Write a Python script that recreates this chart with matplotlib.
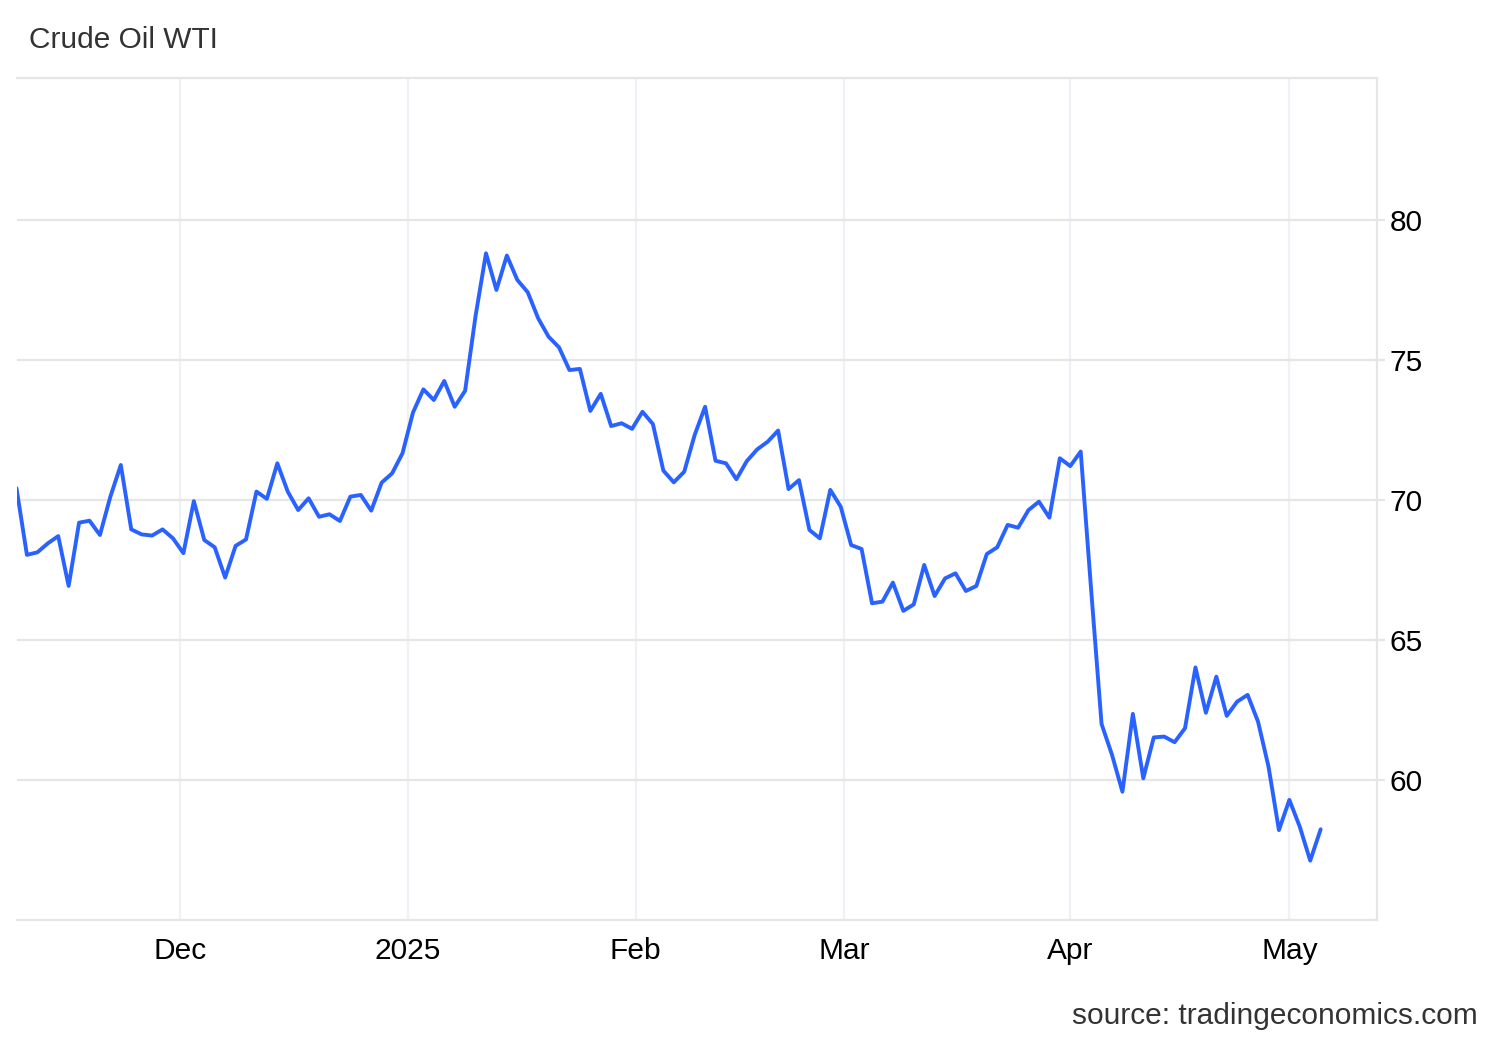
import numpy as np
import pandas as pd
import matplotlib
matplotlib.use("Agg")
import matplotlib.pyplot as plt

plt.rcParams['font.family'] = ['Liberation Sans', 'DejaVu Sans']

# Trading days on the chart (New Year and Good Friday have no value)
days = pd.bdate_range("2024-11-08", "2025-05-06")
days = days.drop(pd.to_datetime(["2025-01-01", "2025-04-18"]))

# WTI price, USD/bbl
prices = [
    70.42, 68.04, 68.13, 68.45, 68.71, 66.93, 69.19, 69.26, 68.75, 70.12,
    71.25, 68.95, 68.77, 68.73, 68.95, 68.63, 68.10, 69.96, 68.57, 68.31,
    67.23, 68.36, 68.59, 70.30, 70.04, 71.31, 70.30, 69.64, 70.06, 69.40,
    69.49, 69.25, 70.12, 70.18, 69.62, 70.62, 70.95, 71.67, 73.12, 73.95,
    73.57, 74.25, 73.33, 73.90, 76.57, 78.81, 77.50, 78.73, 77.86, 77.42,
    76.49, 75.83, 75.45, 74.64, 74.68, 73.18, 73.79, 72.64, 72.74, 72.54,
    73.15, 72.71, 71.05, 70.63, 71.01, 72.32, 73.33, 71.40, 71.31, 70.74,
    71.39, 71.81, 72.08, 72.48, 70.39, 70.71, 68.93, 68.63, 70.36, 69.76,
    68.39, 68.25, 66.31, 66.37, 67.05, 66.04, 66.27, 67.68, 66.57, 67.20,
    67.38, 66.75, 66.93, 68.07, 68.31, 69.11, 69.01, 69.64, 69.94, 69.37,
    71.49, 71.21, 71.73, 66.80, 62.00, 60.90, 59.58, 62.36, 60.06, 61.52,
    61.55, 61.35, 61.85, 64.02, 62.40, 63.69, 62.29, 62.80, 63.04, 62.08,
    60.48, 58.21, 59.29, 58.33, 57.12, 58.24,
]

month_starts = pd.to_datetime(["2024-12-01", "2025-01-01", "2025-02-01",
                               "2025-03-01", "2025-04-01", "2025-05-01"])
month_labels = ["Dec", "2025", "Feb", "Mar", "Apr", "May"]
y_ticks = [60, 65, 70, 75, 80]

# points are evenly spaced (ordinal axis), month ticks interpolated between days
idx = np.arange(len(prices))
tick_pos = np.interp(month_starts.values.astype("int64"),
                     days.values.astype("int64"), idx)

grid_h = "#e6e6e6"
grid_v = "#eef1f5"
fs = 21.5

fig = plt.figure(figsize=(15, 10.4), dpi=100)
ax = fig.add_axes([17 / 1500, 1 - 920 / 1040, 1360 / 1500, 842 / 1040])

ax.plot(idx, prices, color="#2962ff", lw=2.8, solid_joinstyle="round",
        solid_capstyle="round", zorder=3)

ax.set_xlim(0.05, 130.4)
ax.set_ylim(55, 85.07)

ax.set_xticks(tick_pos)
ax.set_xticklabels(month_labels)
ax.set_yticks(y_ticks)
ax.yaxis.tick_right()

ax.grid(axis="x", color=grid_v, lw=1.6, zorder=0)
ax.grid(axis="y", color=grid_h, lw=1.6, zorder=0)

ax.tick_params(axis="x", length=0, pad=12, labelsize=fs, labelcolor="#000000")
ax.tick_params(axis="y", length=6, width=1.6, color=grid_h, pad=3,
               labelsize=fs, labelcolor="#000000")

for side in ["top", "right", "bottom"]:
    ax.spines[side].set_color(grid_h)
    ax.spines[side].set_linewidth(1.6)
ax.spines["left"].set_visible(False)

fig.text(29 / 1500, 1 - 40 / 1040, "Crude Oil WTI", ha="left", va="center",
         fontsize=fs, color="#333333")
fig.text(1478 / 1500, 1 - 1016 / 1040, "source: tradingeconomics.com",
         ha="right", va="center", fontsize=fs, color="#333333")

fig.savefig("out.png", dpi=100, facecolor="white")
